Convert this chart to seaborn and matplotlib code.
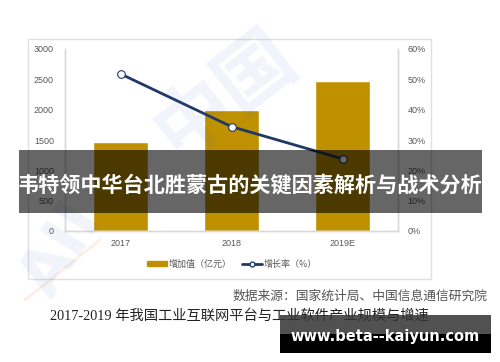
import matplotlib
matplotlib.use('Agg')
import matplotlib.pyplot as plt
import matplotlib.patches as mpatches
from matplotlib.lines import Line2D
import pandas as pd
import seaborn as sns

# chart data
years = ['2017', '2018', '2019E']
added_value = [1470, 2000, 2470]   # 增加值（亿元）
growth_rate = [51.8, 34.4, 23.8]   # 增长率（%）
left_ticks = [0, 500, 1000, 1500, 2000, 2500, 3000]
right_ticks = [0, 10, 20, 30, 40, 50, 60]

banner_title = '韦特领中华台北胜蒙古的关键因素解析与战术分析'
source_note = '数据来源：国家统计局、中国信息通信研究院'
caption = '2017-2019 年我国工业互联网平台与工业软件产业规模与增速'
site = 'www.beta--kaiyun.com'

GOLD = '#BF9000'
NAVY = '#203864'
GRID = '#D9D9D9'
TICK = '#595959'

sns.set_theme(style='white')
plt.rcParams['font.family'] = ['Noto Sans CJK SC', 'DejaVu Sans']

W, H = 500, 362
fig = plt.figure(figsize=(W / 100, H / 100), dpi=100)


def box(x0, y0, x1, y1):
    # pixel box (top-left origin) -> figure fraction [l, b, w, h]
    return [x0 / W, 1 - y1 / H, (x1 - x0) / W, (y1 - y0) / H]


# outer light frame around the chart
fig.patches.append(mpatches.Rectangle((28 / W, 1 - 279 / H), 403 / W, 240 / H,
                                      transform=fig.transFigure, fill=False,
                                      edgecolor='#E0E0E0', linewidth=1.0, zorder=0))

ax = fig.add_axes(box(65, 49, 398, 231))
df = pd.DataFrame({'year': years, 'value': added_value, 'rate': growth_rate})

sns.barplot(data=df, x='year', y='value', color=GOLD, width=0.5,
            saturation=1, ax=ax, zorder=2)
ax.set_ylim(0, 3000)
ax.set_yticks(left_ticks)
ax.set_xlabel('')
ax.set_ylabel('')

ax2 = ax.twinx()
sns.pointplot(data=df, x='year', y='rate', color=NAVY, markers='o',
              ax=ax2, zorder=3)
for ln in ax2.lines:
    ln.set_linewidth(2.0)
    ln.set_markersize(5.5)
    ln.set_markerfacecolor('white')
    ln.set_markeredgecolor(NAVY)
    ln.set_markeredgewidth(0.8)
ax2.set_ylim(0, 60)
ax2.set_yticks(right_ticks)
ax2.set_yticklabels([f'{t}%' for t in right_ticks])
ax2.set_ylabel('')
ax2.set_xlim(-0.5, 2.5)

for a in (ax, ax2):
    a.patch.set_alpha(0)
    a.spines['top'].set_visible(False)
    for s in ('left', 'right', 'bottom'):
        a.spines[s].set_color(GRID)
        a.spines[s].set_linewidth(1.0)
    a.tick_params(length=0, labelsize=6.5, labelcolor=TICK)
ax.tick_params(axis='y', pad=8)
ax2.tick_params(axis='y', pad=7)
ax.tick_params(axis='x', pad=6)
for t in ax.get_xticklabels() + ax.get_yticklabels() + ax2.get_yticklabels():
    t.set_family(['Liberation Sans', 'DejaVu Sans'])

handles = [mpatches.Patch(color=GOLD, label='增加值（亿元）'),
           Line2D([0], [0], color=NAVY, lw=2, marker='o', markersize=3.5,
                  markerfacecolor='white', markeredgecolor=NAVY,
                  label='增长率（%）')]
fig.legend(handles=handles, loc='center', bbox_to_anchor=(232 / W, 1 - 264 / H),
           ncol=2, frameon=False, fontsize=6.5, handlelength=2.2, handleheight=0.6,
           handletextpad=0.2, columnspacing=1.2, labelcolor=TICK)

# faint watermark over the chart
fig.text(62 / W, 1 - 250 / H, 'AII', fontsize=46, fontweight='bold', color='#4472C4',
         alpha=0.08, rotation=58, ha='center', va='center', family='DejaVu Sans', zorder=5)
fig.text(225 / W, 1 - 95 / H, '中国', fontsize=56, fontweight='bold', color='#4472C4',
         alpha=0.08, rotation=38, ha='center', va='center', zorder=5)
fig.add_artist(Line2D([25 / W, 100 / W], [1 - 300 / H, 1 - 240 / H], color='#F4B183',
                      lw=2, alpha=0.2, transform=fig.transFigure, zorder=5))

# dark banner with the headline
fig.patches.append(mpatches.Rectangle((19 / W, 1 - 213 / H), 463 / W, 63 / H,
                                      transform=fig.transFigure, color='black',
                                      alpha=0.6, linewidth=0, zorder=6))
fig.text(250 / W, 1 - 185 / H, banner_title, fontsize=15.2, fontweight='bold',
         color='white', ha='center', va='center', zorder=7)

fig.text(488 / W, 1 - 296 / H, source_note, fontsize=9.2, color='#555555',
         ha='right', va='center', zorder=3)
fig.text(50 / W, 1 - 316 / H, caption, fontsize=10.3, color='#222222',
         ha='left', va='center', family=['Liberation Serif', 'Noto Sans CJK SC'], zorder=3)

# site stamp bottom right
fig.patches.append(mpatches.Rectangle((280 / W, 1 - 334 / H), 211 / W, 19 / H,
                                      transform=fig.transFigure, color='#333333',
                                      alpha=0.85, linewidth=0, zorder=8))
fig.patches.append(mpatches.Rectangle((280 / W, 1 - 353 / H), 211 / W, 19 / H,
                                      transform=fig.transFigure, color='black',
                                      linewidth=0, zorder=8))
fig.text(385 / W, 1 - 337 / H, site, fontsize=10.5, fontweight='bold', color='white',
         ha='center', va='center', family='DejaVu Sans', zorder=9)

fig.savefig('out.png', dpi=100)
